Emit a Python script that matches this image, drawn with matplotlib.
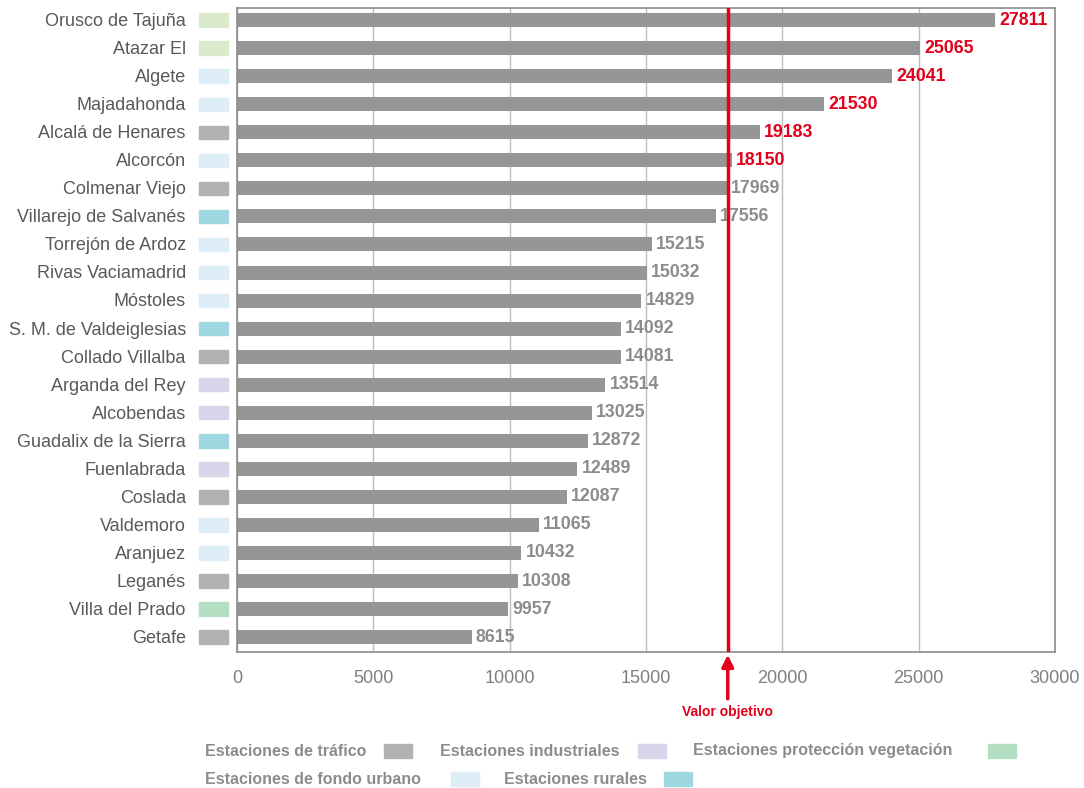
import matplotlib
matplotlib.use("Agg")
import matplotlib.pyplot as plt
from matplotlib.patches import Rectangle
import matplotlib.transforms as mtransforms

plt.rcParams["font.family"] = ["Liberation Sans", "DejaVu Sans"]

# Datos (AOT40 por estacion)
estaciones = ["Orusco de Tajuña", "Atazar El", "Algete", "Majadahonda",
              "Alcalá de Henares", "Alcorcón", "Colmenar Viejo",
              "Villarejo de Salvanés", "Torrejón de Ardoz", "Rivas Vaciamadrid",
              "Móstoles", "S. M. de Valdeiglesias", "Collado Villalba",
              "Arganda del Rey", "Alcobendas", "Guadalix de la Sierra",
              "Fuenlabrada", "Coslada", "Valdemoro", "Aranjuez", "Leganés",
              "Villa del Prado", "Getafe"]
valores = [27811, 25065, 24041, 21530, 19183, 18150, 17969, 17556, 15215,
           15032, 14829, 14092, 14081, 13514, 13025, 12872, 12489, 12087,
           11065, 10432, 10308, 9957, 8615]
tipos = ["veg_claro", "veg_claro", "urbano", "urbano", "trafico", "urbano",
         "trafico", "rural", "urbano", "urbano", "urbano", "rural", "trafico",
         "industrial", "industrial", "rural", "industrial", "trafico",
         "urbano", "urbano", "trafico", "vegetacion", "trafico"]
valor_objetivo = 18000

colores_tipo = {"trafico": "#b2b2b2", "industrial": "#d9d4ea",
                "vegetacion": "#b5dfc2", "veg_claro": "#d9eacd",
                "urbano": "#dcedf8", "rural": "#9fd8e0"}

leyenda = [("Estaciones de tráfico", "trafico"),
           ("Estaciones industriales", "industrial"),
           ("Estaciones protección vegetación", "vegetacion"),
           ("Estaciones de fondo urbano", "urbano"),
           ("Estaciones rurales", "rural")]

GRIS_TXT = "#595959"
GRIS_VAL = "#8c8c8c"
ROJO = "#e3001b"

fig = plt.figure(figsize=(10.84, 7.88), dpi=100)
ax = fig.add_axes([0.2186, 0.1726, 0.7546, 0.8172])

pos = list(range(len(estaciones)))
ax.barh(pos, valores, height=0.5, color="#969696", zorder=2)
ax.set_xlim(0, 30000)
ax.set_ylim(22.53, -0.43)
ax.set_xticks(range(0, 30001, 5000))
ax.set_yticks([])
ax.grid(axis="x", color="#bcbcbc", lw=1, zorder=0)
for s in ax.spines.values():
    s.set_color("#8c8c8c")
    s.set_linewidth(1.2)
ax.tick_params(axis="x", length=0, pad=13, labelsize=13, labelcolor="#7f7f7f")

trans = mtransforms.blended_transform_factory(ax.transAxes, ax.transData)
for i, (nombre, v, t) in enumerate(zip(estaciones, valores, tipos)):
    ax.text(-0.0625, i + 0.05, nombre, transform=trans, ha="right", va="center",
            fontsize=13, color=GRIS_TXT)
    ax.add_patch(Rectangle((-0.0465, i - 0.24), 0.0355, 0.48, transform=trans,
                           color=colores_tipo[t], clip_on=False))
    color = ROJO if v > valor_objetivo else GRIS_VAL
    ax.text(v + 150, i, str(v), ha="left", va="center", fontsize=12.8,
            fontweight="bold", color=color, zorder=3)

# Linea de valor objetivo con flecha
ax.axvline(valor_objetivo, color=ROJO, lw=2.5, zorder=4)
ax.annotate("", xy=(valor_objetivo, 22.53), xycoords="data",
            xytext=(valor_objetivo, 24.3), textcoords="data",
            arrowprops=dict(arrowstyle="-|>,head_width=0.35,head_length=0.7",
                            color=ROJO, lw=2.5), annotation_clip=False)
ax.text(valor_objetivo, 24.68, "Valor objetivo", ha="center", va="center",
        fontsize=10, fontweight="bold", color=ROJO)

# Leyenda manual
W, H = 1084, 788
legend_pos = [(205, 751, 384), (440, 751, 638), (693, 751, 988),
              (205, 779, 451), (504, 779, 664)]
for (texto, t), (xt, yt, xs) in zip(leyenda, legend_pos):
    fig.text(xt / W, 1 - yt / H, texto, ha="left", va="center", fontsize=11.5,
             fontweight="bold", color=GRIS_VAL,
             family=["Liberation Sans Narrow", "Liberation Sans", "DejaVu Sans"])
    fig.add_artist(Rectangle((xs / W, 1 - (yt + 7) / H), 28 / W, 14 / H,
                             transform=fig.transFigure, color=colores_tipo[t]))

fig.savefig("out.png", dpi=100)
